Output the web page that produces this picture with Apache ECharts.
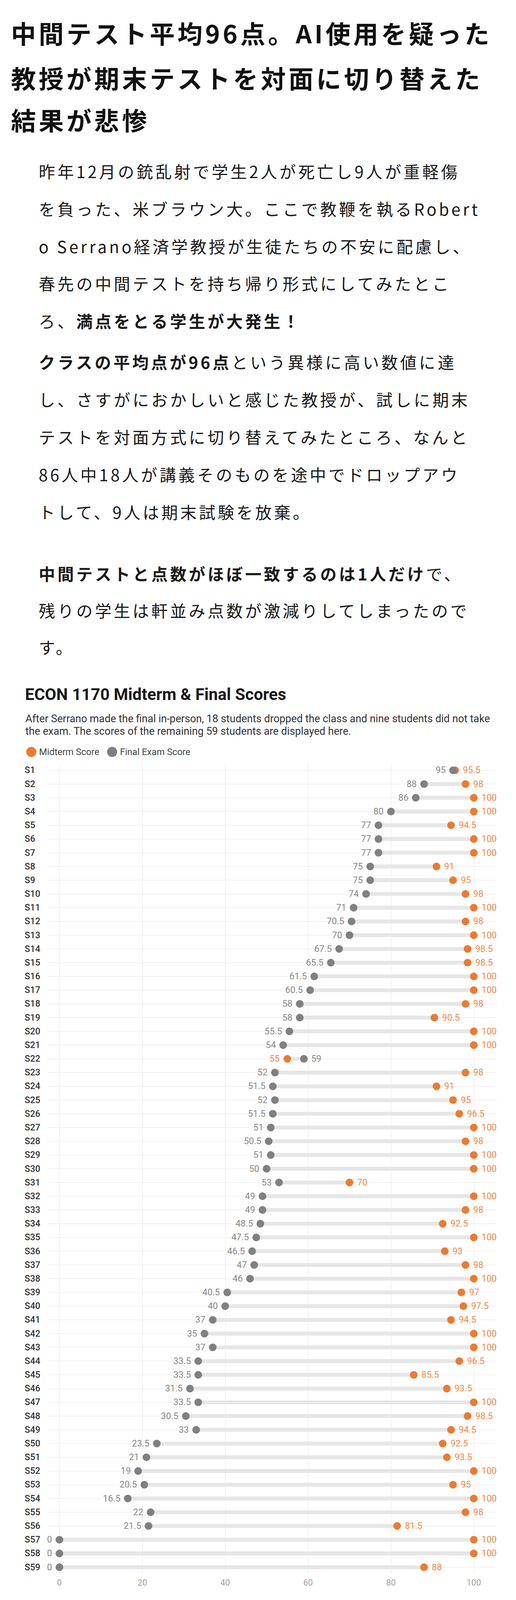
<!DOCTYPE html>
<html><head><meta charset="utf-8">
<script src="https://cdn.jsdelivr.net/npm/echarts@6/dist/echarts.min.js"></script>
<style>
html,body{margin:0;padding:0;background:#fff;}
body{width:1320px;height:4097px;position:relative;overflow:hidden;font-family:"Noto Sans CJK JP","Noto Sans",sans-serif;color:#111;}
.t{position:absolute;left:28px;font-size:64px;font-weight:bold;letter-spacing:7px;line-height:112px;height:112px;white-space:nowrap;}
.p{position:absolute;left:99px;font-size:42px;letter-spacing:6px;line-height:96px;height:96px;white-space:nowrap;color:#1a1a1a;}
.p b{font-weight:bold;}
#chart{position:absolute;left:0;top:1700px;width:1320px;height:2397px;}
</style></head>
<body>
<div class="t" style="top:27px">中間テスト平均96点。AI使用を疑った</div>
<div class="t" style="top:142px">教授が期末テストを対面に切り替えた</div>
<div class="t" style="top:249px">結果が悲惨</div>

<div class="p" style="top:390px">昨年12月の銃乱射で学生2人が死亡し9人が重軽傷</div>
<div class="p" style="top:486px">を負った、米ブラウン大。ここで教鞭を執るRobert</div>
<div class="p" style="top:582px">o Serrano経済学教授が生徒たちの不安に配慮し、</div>
<div class="p" style="top:677px">春先の中間テストを持ち帰り形式にしてみたとこ</div>
<div class="p" style="top:773px">ろ、<b>満点をとる学生が大発生！</b></div>

<div class="p" style="top:878px"><b>クラスの平均点が96点</b>という異様に高い数値に達</div>
<div class="p" style="top:974px">し、さすがにおかしいと感じた教授が、試しに期末</div>
<div class="p" style="top:1070px">テストを対面方式に切り替えてみたところ、なんと</div>
<div class="p" style="top:1166px">86人中18人が講義そのものを途中でドロップアウ</div>
<div class="p" style="top:1262px">トして、9人は期末試験を放棄。</div>

<div class="p" style="top:1420px"><b>中間テストと点数がほぼ一致するのは1人だけ</b>で、</div>
<div class="p" style="top:1514px">残りの学生は軒並み点数が激減りしてしまったので</div>
<div class="p" style="top:1608px">す。</div>

<div id="chart"></div>
<script>
const students = ['S1','S2','S3','S4','S5','S6','S7','S8','S9','S10',
  'S11','S12','S13','S14','S15','S16','S17','S18','S19','S20',
  'S21','S22','S23','S24','S25','S26','S27','S28','S29','S30',
  'S31','S32','S33','S34','S35','S36','S37','S38','S39','S40',
  'S41','S42','S43','S44','S45','S46','S47','S48','S49','S50',
  'S51','S52','S53','S54','S55','S56','S57','S58','S59'];
const midterm = [95.5,98,100,100,94.5,100,100,91,95,98,
  100,98,100,98.5,98.5,100,100,98,90.5,100,
  100,55,98,91,95,96.5,100,98,100,100,
  70,100,98,92.5,100,93,98,100,97,97.5,
  94.5,100,100,96.5,85.5,93.5,100,98.5,94.5,92.5,
  93.5,100,95,100,98,81.5,100,100,88];
const finalExam = [95,88,86,80,77,77,77,75,75,74,
  71,70.5,70,67.5,65.5,61.5,60.5,58,58,55.5,
  54,59,52,51.5,52,51.5,51,50.5,51,50,
  53,49,49,48.5,47.5,46.5,47,46,40.5,40,
  37,35,37,33.5,33.5,31.5,33.5,30.5,33,23.5,
  21,19,20.5,16.5,22,21.5,0,0,0];
const seriesNames = ['Midterm Score','Final Exam Score'];

const ORANGE = '#ef7a2f', ORANGE_TXT = '#f08a4b', GREY = '#808080', GREY_TXT = '#888888';
const chart = echarts.init(document.getElementById('chart'), null, {renderer:'svg'});

const midData = students.map((s,i)=>({value:[midterm[i], s],
  label:{position: midterm[i] >= finalExam[i] ? 'right' : 'left'}}));
const finData = students.map((s,i)=>({value:[finalExam[i], s],
  label:{position: finalExam[i] > midterm[i] ? 'right' : 'left'}}));

chart.setOption({
  animation:false,
  title:[
    {text:'ECON 1170 Midterm & Final Scores', left:59, top:49,
     textStyle:{fontFamily:'Roboto', fontSize:42, fontWeight:'bold', color:'#1a1a1a', lineHeight:46}},
    {text:'After Serrano made the final in-person, 18 students dropped the class and nine students did not take\nthe exam. The scores of the remaining 59 students are displayed here.',
     left:60, top:119,
     textStyle:{fontFamily:'Roboto', fontSize:26.8, fontWeight:'normal', color:'#333', lineHeight:32}}
  ],
  legend:{data:seriesNames, left:62, top:207, icon:'circle', itemWidth:26, itemHeight:26, itemGap:20,
    textStyle:{fontFamily:'Roboto', fontSize:23.5, color:'#444', padding:[0,0,0,2]}},
  grid:{left:152, right:108, top:254.4, bottom:67.4},
  xAxis:{type:'value', min:0, max:100, interval:20,
    axisLine:{show:false}, axisTick:{show:false},
    axisLabel:{color:'#a0a0a0', fontSize:22, fontFamily:'Roboto', margin:11},
    splitLine:{show:true, lineStyle:{color:'#e6e6e6', width:1}}},
  yAxis:{type:'category', data:students, inverse:true,
    axisLine:{show:false}, axisTick:{show:false}, splitLine:{show:false},
    axisLabel:{align:'left', margin:89, color:'#333', fontSize:23, fontWeight:500, fontFamily:'Roboto'}},
  series:[
    {type:'custom', silent:true, z:1,
     data: students.map(s=>[0, s]),
     encode:{x:0, y:1},
     renderItem:(params, api)=>{
       const y = api.coord([0, api.value(1)])[1];
       const cs = params.coordSys;
       return {type:'line', shape:{x1:cs.x-30, y1:y, x2:cs.x+cs.width+59, y2:y},
         style:{stroke:'#f1f1f1', lineWidth:2}};
     }},
    {type:'custom', silent:true, z:2,
     data: students.map((s,i)=>[finalExam[i], midterm[i], s]),
     encode:{x:[0,1], y:2},
     renderItem:(params, api)=>{
       const a = api.coord([api.value(0), api.value(2)]);
       const b = api.coord([api.value(1), api.value(2)]);
       return {type:'line', shape:{x1:a[0], y1:a[1], x2:b[0], y2:b[1]},
         style:{stroke:'#e6e6e6', lineWidth:10}};
     }},
    {name:seriesNames[0], type:'scatter', z:3, symbolSize:19.5, data:midData,
     itemStyle:{color:ORANGE, opacity:1},
     label:{show:true, distance:10, formatter:p=>String(p.value[0]), color:ORANGE_TXT, fontSize:23, fontFamily:'Roboto'}},
    {name:seriesNames[1], type:'scatter', z:4, symbolSize:19.5, data:finData,
     itemStyle:{color:GREY, opacity:1},
     label:{show:true, distance:9, formatter:p=>String(p.value[0]), color:GREY_TXT, fontSize:23, fontFamily:'Roboto'}}
  ]
});
</script>
</body></html>
